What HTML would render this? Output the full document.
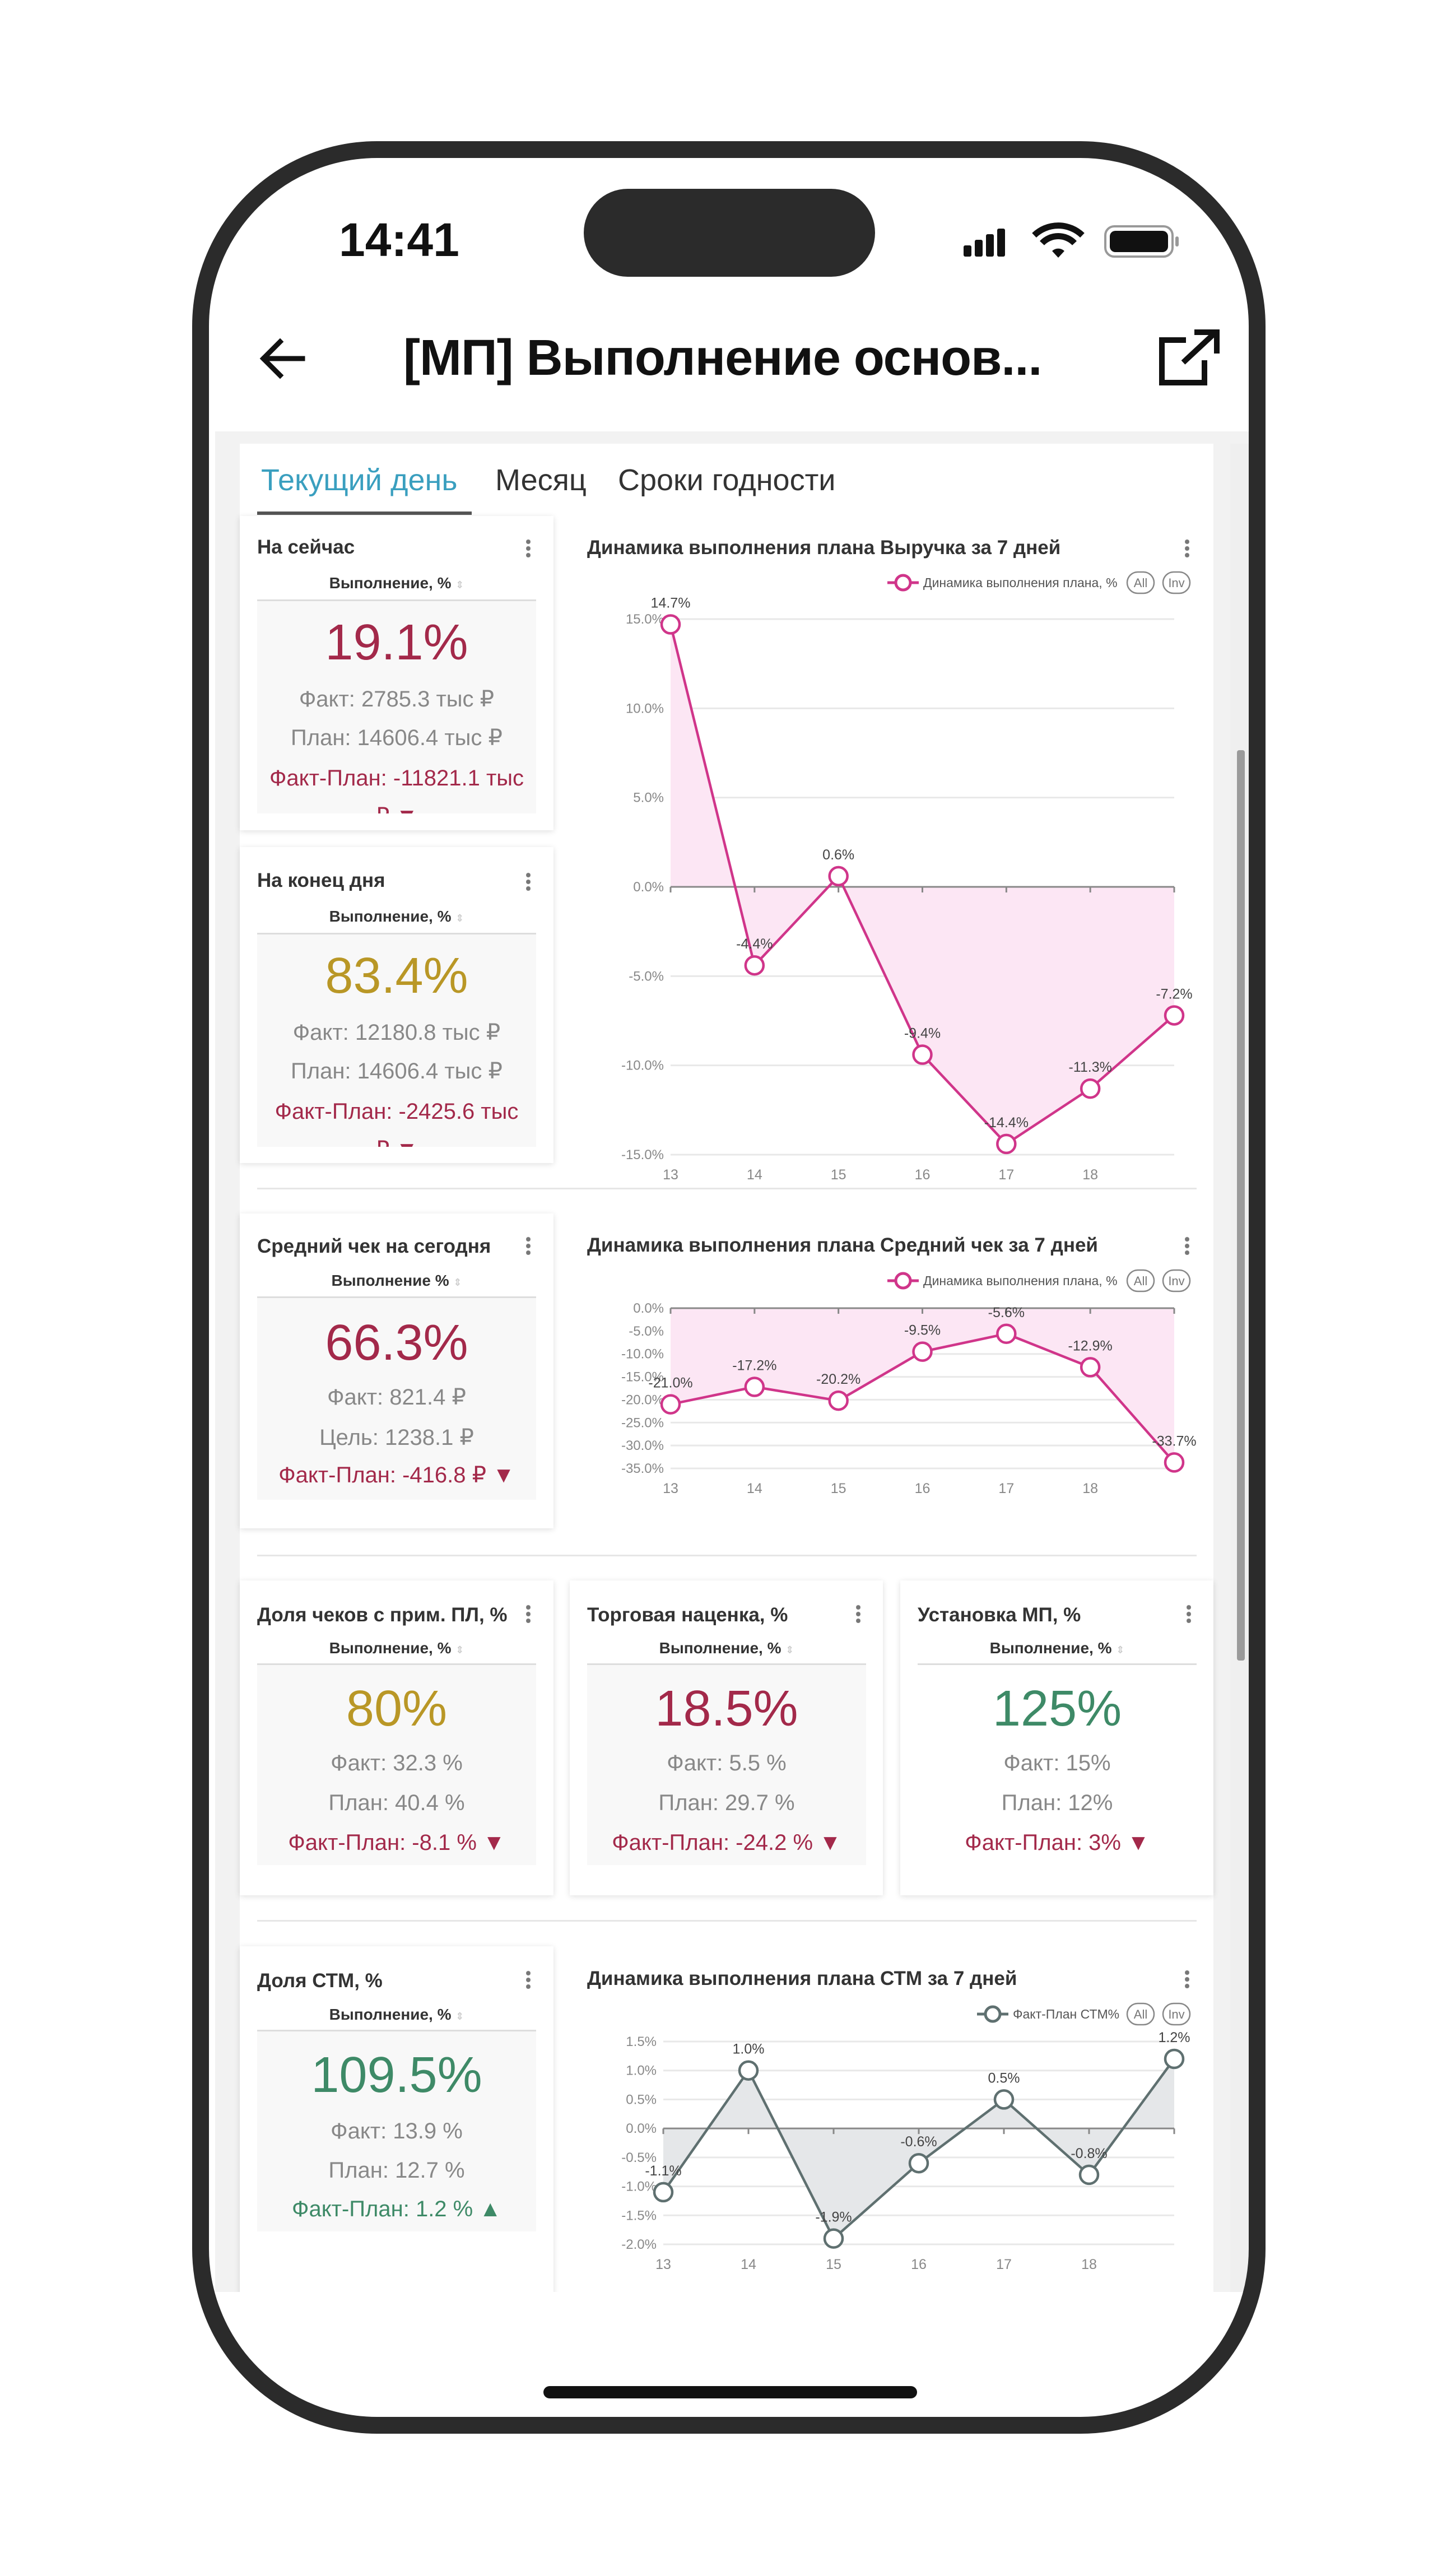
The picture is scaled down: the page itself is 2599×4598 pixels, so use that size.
<!DOCTYPE html>
<html><head><meta charset="utf-8">
<style>
*{margin:0;padding:0;box-sizing:border-box}
body{width:2599px;height:4598px;background:#fff;position:relative;overflow:hidden;font-family:"Liberation Sans","DejaVu Sans",sans-serif}
.abs{position:absolute}
.frame{left:343px;top:252px;width:1916px;height:4092px;border:30px solid #2b2b2b;border-radius:330px;background:transparent;box-shadow:0 0 0 1500px #fff;z-index:20;pointer-events:none}
.card{position:absolute;background:#fff;box-shadow:0 2px 10px rgba(0,0,0,0.13)}
.ctitle{position:absolute;left:31px;font-size:35px;font-weight:bold;color:#333;white-space:nowrap}
.dots{position:absolute;width:8px;height:34px;background:radial-gradient(circle,#777 3.5px,transparent 4.5px) 0 0/8px 12px repeat-y}
.sub{position:absolute;left:31px;width:498px;text-align:center;font-size:28px;font-weight:bold;color:#333}
.sub span{color:#ccc;font-size:18px}
.hl{position:absolute;left:31px;width:498px;height:3px;background:#ddd}
.box{position:absolute;left:31px;width:498px;background:#f8f8f8;text-align:center;overflow:hidden}
.big{position:absolute;width:100%;text-align:center;font-size:90px;line-height:1}
.ln{position:absolute;width:100%;text-align:center;font-size:40px;line-height:1;color:#888;white-space:nowrap}
.red{color:#a3294a}.gold{color:#b99726}.green{color:#3e8a67}
.sep{position:absolute;left:459px;width:1677px;height:3px;background:#e6e6e6}
.tab{position:absolute;top:826px;font-size:54px;color:#333;white-space:nowrap}
</style></head><body>
<div class="abs" style="left:605px;top:380px;font-size:84px;font-weight:bold;color:#111">14:41</div>
<div class="abs" style="left:1042px;top:337px;width:520px;height:157px;border-radius:79px;background:#2b2b2b"></div>
<svg class="abs" style="left:1700px;top:390px" width="420" height="80">
<rect x="20" y="48" width="14" height="20" rx="3" fill="#111"/><rect x="40" y="38" width="14" height="30" rx="3" fill="#111"/><rect x="60" y="28" width="14" height="40" rx="3" fill="#111"/><rect x="80" y="18" width="14" height="50" rx="3" fill="#111"/>
<path d="M146 30 a62 62 0 0 1 86 0" stroke="#111" stroke-width="11" fill="none"/><path d="M160 44 a40 40 0 0 1 58 0" stroke="#111" stroke-width="11" fill="none"/><path d="M178 58 l11 12 l11 -12 a16 16 0 0 0 -22 0z" fill="#111"/>
<rect x="273" y="14" width="120" height="54" rx="16" fill="none" stroke="#999" stroke-width="4"/><rect x="281" y="22" width="104" height="38" rx="10" fill="#111"/><rect x="398" y="32" width="6" height="18" rx="3" fill="#999"/>
</svg>
<svg class="abs" style="left:460px;top:600px" width="90" height="80"><path d="M80 40 H12 M40 10 L10 40 L40 70" stroke="#111" stroke-width="9" fill="none" stroke-linecap="square"/></svg>
<div class="abs" style="left:720px;top:588px;font-size:90px;font-weight:bold;color:#111;white-space:nowrap;letter-spacing:-1px">[МП] Выполнение основ...</div>
<svg class="abs" style="left:2062px;top:585px" width="125" height="110"><path d="M55 22 H12 V98 H88 V58" stroke="#111" stroke-width="10" fill="none"/><path d="M50 62 L108 8 M70 8 H110 V46" stroke="#111" stroke-width="10" fill="none"/></svg>

<div class="abs" style="left:384px;top:770px;width:1845px;height:3321px;background:#f2f2f2"></div>
<div class="abs" style="left:428px;top:792px;width:1738px;height:3299px;background:#fff"></div>
<div class="abs" style="left:2196px;top:792px;width:33px;height:3299px;background:#efefef"></div>
<div class="abs" style="left:2208px;top:1339px;width:14px;height:1625px;background:#9a9a9a;border-radius:4px"></div>

<div class="tab" style="left:466px;color:#3a9fbf">Текущий день</div>
<div class="tab" style="left:884px">Месяц</div>
<div class="tab" style="left:1103px">Сроки годности</div>
<div class="abs" style="left:459px;top:913px;width:383px;height:6px;background:#555"></div>

<div class="card" style="left:428px;top:921px;width:560px;height:561px">
<div class="ctitle" style="top:36px">На сейчас</div>
<div class="dots" style="left:511px;top:40px"></div>
<div class="sub" style="top:104px">Выполнение, % <span>⇕</span></div>
<div class="hl" style="top:149px"></div>
<div class="box" style="top:152px;height:379px">
<div class="big red" style="top:29px">19.1%</div>
<div class="ln" style="top:155px">Факт: 2785.3 тыс ₽</div>
<div class="ln" style="top:224px">План: 14606.4 тыс ₽</div>
<div class="ln red" style="top:296px">Факт-План: -11821.1 тыс</div>
<div class="ln red" style="top:364px">₽ ▼</div>
</div></div>

<div class="card" style="left:428px;top:1512px;width:560px;height:564px">
<div class="ctitle" style="top:40px">На конец дня</div>
<div class="dots" style="left:511px;top:44px"></div>
<div class="sub" style="top:108px">Выполнение, % <span>⇕</span></div>
<div class="hl" style="top:153px"></div>
<div class="box" style="top:156px;height:379px">
<div class="big gold" style="top:29px">83.4%</div>
<div class="ln" style="top:155px">Факт: 12180.8 тыс ₽</div>
<div class="ln" style="top:224px">План: 14606.4 тыс ₽</div>
<div class="ln red" style="top:296px">Факт-План: -2425.6 тыс</div>
<div class="ln red" style="top:364px">₽ ▼</div>
</div></div>

<div class="sep" style="top:2120px"></div>

<div class="card" style="left:428px;top:2166px;width:560px;height:562px">
<div class="ctitle" style="top:39px">Средний чек на сегодня</div>
<div class="dots" style="left:511px;top:40px"></div>
<div class="sub" style="top:104px">Выполнение % <span>⇕</span></div>
<div class="hl" style="top:148px"></div>
<div class="box" style="top:151px;height:360px">
<div class="big red" style="top:35px">66.3%</div>
<div class="ln" style="top:157px">Факт: 821.4 ₽</div>
<div class="ln" style="top:229px">Цель: 1238.1 ₽</div>
<div class="ln red" style="top:296px">Факт-План: -416.8 ₽ ▼</div>
</div></div>

<div class="sep" style="top:2775px"></div>

<div class="card" style="left:428px;top:2821px;width:560px;height:562px">
<div class="ctitle" style="top:42px">Доля чеков с прим. ПЛ, %</div>
<div class="dots" style="left:511px;top:42px"></div>
<div class="sub" style="top:105px">Выполнение, % <span>⇕</span></div>
<div class="hl" style="top:148px"></div>
<div class="box" style="top:151px;height:357px">
<div class="big gold" style="top:33px">80%</div>
<div class="ln" style="top:155px">Факт: 32.3 %</div>
<div class="ln" style="top:226px">План: 40.4 %</div>
<div class="ln red" style="top:297px">Факт-План: -8.1 % ▼</div>
</div></div>
<div class="card" style="left:1017px;top:2821px;width:559px;height:562px">
<div class="ctitle" style="top:42px">Торговая наценка, %</div>
<div class="dots" style="left:511px;top:42px"></div>
<div class="sub" style="top:105px">Выполнение, % <span>⇕</span></div>
<div class="hl" style="top:148px"></div>
<div class="box" style="top:151px;height:357px">
<div class="big red" style="top:33px">18.5%</div>
<div class="ln" style="top:155px">Факт: 5.5 %</div>
<div class="ln" style="top:226px">План: 29.7 %</div>
<div class="ln red" style="top:297px">Факт-План: -24.2 % ▼</div>
</div></div>
<div class="card" style="left:1607px;top:2821px;width:559px;height:562px">
<div class="ctitle" style="top:42px">Установка МП, %</div>
<div class="dots" style="left:511px;top:42px"></div>
<div class="sub" style="top:105px">Выполнение, % <span>⇕</span></div>
<div class="hl" style="top:148px"></div>
<div class="box" style="top:151px;height:357px;background:#fff">
<div class="big green" style="top:33px">125%</div>
<div class="ln" style="top:155px">Факт: 15%</div>
<div class="ln" style="top:226px">План: 12%</div>
<div class="ln red" style="top:297px">Факт-План: 3% ▼</div>
</div></div>

<div class="sep" style="top:3427px"></div>

<div class="card" style="left:428px;top:3474px;width:560px;height:700px">
<div class="ctitle" style="top:42px">Доля СТМ, %</div>
<div class="dots" style="left:511px;top:42px"></div>
<div class="sub" style="top:106px">Выполнение, % <span>⇕</span></div>
<div class="hl" style="top:149px"></div>
<div class="box" style="top:152px;height:357px">
<div class="big green" style="top:33px">109.5%</div>
<div class="ln" style="top:158px">Факт: 13.9 %</div>
<div class="ln" style="top:228px">План: 12.7 %</div>
<div class="ln green" style="top:297px">Факт-План: 1.2 % ▲</div>
</div></div>

<div class="abs ctitle" style="left:1048px;top:958px">Динамика выполнения плана Выручка за 7 дней</div>
<div class="dots abs" style="left:2115px;top:961px"></div>
<div class="abs ctitle" style="left:1048px;top:2203px">Динамика выполнения плана Средний чек за 7 дней</div>
<div class="dots abs" style="left:2115px;top:2206px"></div>
<div class="abs ctitle" style="left:1048px;top:3512px">Динамика выполнения плана СТМ за 7 дней</div>
<div class="dots abs" style="left:2115px;top:3515px"></div>

<svg id="charts" class="abs" style="left:0;top:0;pointer-events:none" width="2599" height="4598"></svg>

<div class="abs" style="left:343px;top:4091px;width:1916px;height:260px;background:#fff;z-index:10"></div>
<div class="abs" style="left:970px;top:4259px;width:667px;height:22px;border-radius:11px;background:#111;z-index:11"></div>
<div class="abs frame"></div>

<script>
const days = ['13','14','15','16','17','18',''];
const revenueValues = [14.7, -4.4, 0.6, -9.4, -14.4, -11.3, -7.2];
const revenueTicks = [15, 10, 5, 0, -5, -10, -15];
const avgCheckValues = [-21.0, -17.2, -20.2, -9.5, -5.6, -12.9, -33.7];
const avgCheckTicks = [0, -5, -10, -15, -20, -25, -30, -35];
const stmValues = [-1.1, 1.0, -1.9, -0.6, 0.5, -0.8, 1.2];
const stmTicks = [1.5, 1.0, 0.5, 0.0, -0.5, -1.0, -1.5, -2.0];
const legendRevenue = 'Динамика выполнения плана, %';
const legendAvg = 'Динамика выполнения плана, %';
const legendStm = 'Факт-План СТМ%';

const NS = 'http://www.w3.org/2000/svg';
const svg = document.getElementById('charts');
function mk(tag, attrs, parent) {
  const e = document.createElementNS(NS, tag);
  for (const k in attrs) e.setAttribute(k, attrs[k]);
  (parent || svg).appendChild(e);
  return e;
}
function draw(cfg, values, ticks, legend, name) {
  const g = mk('g', {});
  
  
  const yMax = Math.max(...ticks), yMin = Math.min(...ticks);
  const y = v => cfg.yTop + (yMax - v) / (yMax - yMin) * (cfg.yBot - cfg.yTop);
  const x = i => cfg.x0 + i * (cfg.x1 - cfg.x0) / (days.length - 1);
  ticks.forEach(t => {
    const gl = mk('line', {x1: x(0), x2: x(days.length - 1), y1: y(t), y2: y(t), stroke: '#e8e8e8', 'stroke-width': 3}, g);
    
    
    const tl = mk('text', {x: x(0) - 12, y: y(t) + 8, 'text-anchor': 'end', 'font-size': 24, fill: '#888', 'font-family': 'Liberation Sans, sans-serif'}, g);
    tl.textContent = t.toFixed(1) + '%';
    
    
  });
  const z = y(Math.min(0, yMax));
  const pts = values.map((v, i) => x(i) + ',' + y(v)).join(' ');
  const area = mk('polygon', {points: x(0) + ',' + z + ' ' + pts + ' ' + x(values.length - 1) + ',' + z, fill: cfg.fill}, g);
  
  
  const ax = mk('line', {x1: x(0), x2: x(days.length - 1), y1: z, y2: z, stroke: '#888', 'stroke-width': 3}, g);
  
  
  days.forEach((d, i) => {
    mk('line', {x1: x(i), x2: x(i), y1: z, y2: z + 10, stroke: '#888', 'stroke-width': 3}, g);
    const xl = mk('text', {x: x(i), y: cfg.yBot + 44, 'text-anchor': 'middle', 'font-size': 25, fill: '#888', 'font-family': 'Liberation Sans, sans-serif'}, g);
    xl.textContent = d;
    
    
  });
  const line = mk('polyline', {points: pts, fill: 'none', stroke: cfg.color, 'stroke-width': 4.5}, g);
  
  
  values.forEach((v, i) => {
    const c = mk('circle', {cx: x(i), cy: y(v), r: 16, fill: '#fff', stroke: cfg.color, 'stroke-width': 4.5}, g);
    
    
    const l = mk('text', {x: x(i), y: y(v) - 30, 'text-anchor': 'middle', 'font-size': 25, fill: '#444', 'font-family': 'Liberation Sans, sans-serif'}, g);
    l.textContent = v.toFixed(1) + '%';
    
    
  });
  const lx = cfg.legX, ly = cfg.legY;
  mk('line', {x1: lx - 28, x2: lx + 28, y1: ly, y2: ly, stroke: cfg.color, 'stroke-width': 5}, g);
  mk('circle', {cx: lx, cy: ly, r: 13, fill: '#fff', stroke: cfg.color, 'stroke-width': 5}, g);
  const lt = mk('text', {x: lx + 36, y: ly + 8, 'font-size': 23, fill: '#555', 'font-family': 'Liberation Sans, sans-serif'}, g);
  lt.textContent = legend;
  
  
  [['All', 2036], ['Inv', 2100]].forEach(p => {
    const r = mk('rect', {x: p[1] - 24, y: ly - 19, width: 48, height: 38, rx: 19, fill: '#fff', stroke: '#888', 'stroke-width': 2.5}, g);
    
    
    const t = mk('text', {x: p[1], y: ly + 8, 'text-anchor': 'middle', 'font-size': 22, fill: '#777', 'font-family': 'Liberation Sans, sans-serif'}, g);
    t.textContent = p[0];
  });
}
draw({x0: 1197, x1: 2096, yTop: 1105, yBot: 2061, color: '#d0358a', fill: '#fce6f4', legX: 1612, legY: 1040}, revenueValues, revenueTicks, legendRevenue, 'chart-revenue');
draw({x0: 1197, x1: 2096, yTop: 2335, yBot: 2621, color: '#d0358a', fill: '#fce6f4', legX: 1612, legY: 2286}, avgCheckValues, avgCheckTicks, legendAvg, 'chart-avg-check');
draw({x0: 1184, x1: 2096, yTop: 3644, yBot: 4006, color: '#5f7070', fill: '#e5e7e9', legX: 1772, legY: 3595}, stmValues, stmTicks, legendStm, 'chart-stm');
</script>
</body></html>
